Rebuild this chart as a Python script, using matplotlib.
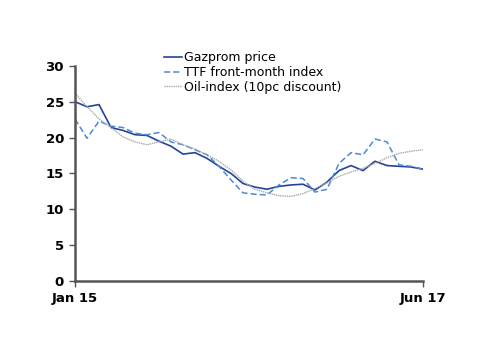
# Gazprom price vs TTF and oil-indexed price, Jan 15 - Jun 17 (monthly)
import matplotlib
matplotlib.use("Agg")
import matplotlib.pyplot as plt

# monthly values, Jan 2015 .. Jun 2017
months = list(range(30))
gazprom = [25.0, 24.3, 24.6, 21.4, 21.0, 20.4, 20.3, 19.5, 18.8, 17.7,
           17.9, 17.1, 16.0, 15.0, 13.6, 13.1, 12.8, 13.2, 13.4, 13.5,
           12.7, 13.8, 15.4, 16.1, 15.4, 16.7, 16.1, 16.0, 15.9, 15.6]
ttf = [22.6, 19.9, 22.3, 21.6, 21.4, 20.6, 20.4, 20.7, 19.4, 19.0,
       18.3, 17.6, 16.0, 14.1, 12.3, 12.1, 12.0, 13.4, 14.4, 14.3,
       12.4, 12.8, 16.4, 17.9, 17.6, 19.8, 19.4, 16.2, 16.0, 15.6]
oil = [26.2, 24.3, 22.6, 21.4, 20.1, 19.4, 19.0, 19.4, 19.8, 19.0,
       18.4, 17.6, 16.7, 15.5, 13.9, 12.8, 12.3, 11.9, 11.8, 12.2,
       12.9, 13.7, 14.6, 15.2, 15.7, 16.4, 17.2, 17.8, 18.1, 18.3]

x_ticks = [0, 29]
x_labels = ["Jan 15", "Jun 17"]
y_ticks = [0, 5, 10, 15, 20, 25, 30]

fig = plt.figure(figsize=(5.0, 3.54), dpi=100)
ax = fig.add_axes([0.15, 0.206, 0.696, 0.608])

ax.plot(months, gazprom, color="#23449a", lw=1.2, label="Gazprom price")
ax.plot(months, ttf, color="#4a8ad6", lw=1.1, ls=(0, (4, 2)), label="TTF front-month index")
ax.plot(months, oil, color="#a8a8a8", lw=1.0, ls=(0, (1, 0.6)), label="Oil-index (10pc discount)")

ax.set_xlim(0, 29)
ax.set_ylim(0, 30)
ax.set_xticks(x_ticks)
ax.set_xticklabels(x_labels, fontsize=9.5, fontweight="bold")
ax.set_yticks(y_ticks)
ax.set_yticklabels([str(v) for v in y_ticks], fontsize=9.5, fontweight="bold")

for s in ["top", "right"]:
    ax.spines[s].set_visible(False)
for s in ["left", "bottom"]:
    ax.spines[s].set_color("#555555")
    ax.spines[s].set_linewidth(1.8)
ax.tick_params(axis="both", direction="out", length=4, width=1, color="#555555", pad=4)

fig.legend(loc="upper left", bbox_to_anchor=(0.318, 0.87), frameon=False,
           fontsize=9, handlelength=1.4, handletextpad=0.2, labelspacing=0.15,
           borderaxespad=0)

fig.savefig("out.png", dpi=100)
